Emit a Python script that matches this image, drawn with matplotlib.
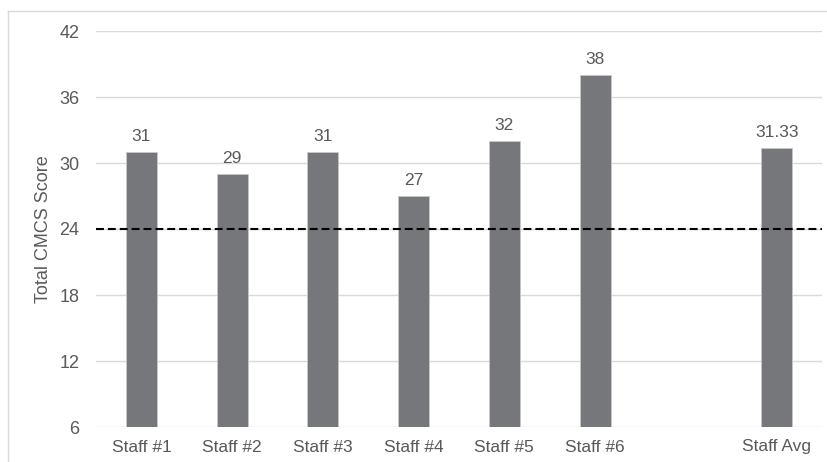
import matplotlib.pyplot as plt
from matplotlib.lines import Line2D

# Data
staff = ["Staff #1", "Staff #2", "Staff #3", "Staff #4", "Staff #5", "Staff #6", "Staff Avg"]
scores = [31, 29, 31, 27, 32, 38, 31.33]
score_labels = ["31", "29", "31", "27", "32", "38", "31.33"]
positions = [0, 1, 2, 3, 4, 5, 7]  # empty slot before the average
cutoff = 24
y_ticks = [6, 12, 18, 24, 30, 36, 42]

plt.rcParams["font.family"] = ["Liberation Sans", "DejaVu Sans"]
text_color = "#595959"
bar_color = "#76777b"
base = 6

fig = plt.figure(figsize=(8.27, 4.62), dpi=100)
ax = fig.add_axes([96 / 827, 1 - 427 / 462, (822 - 96) / 827, (427 - 31) / 462])

heights = [s - base for s in scores]
ax.bar(positions, heights, bottom=base, width=0.34, color=bar_color,
       edgecolor="#c8c8c8", linewidth=0.6, zorder=3)

for x, s, lab in zip(positions, scores, score_labels):
    ax.text(x, s + 0.75, lab, ha="center", va="bottom", fontsize=12.5, color=text_color)

ax.axhline(cutoff, color="black", linestyle=(0, (3.8, 1.9)), linewidth=1.5, zorder=4)

ax.set_xlim(-0.5, 7.5)
ax.set_ylim(6, 42)
ax.set_yticks(y_ticks)
ax.set_xticks(positions)
ax.set_xticklabels(staff)
ax.tick_params(axis="both", length=0, labelcolor=text_color)
ax.tick_params(axis="x", labelsize=12.5, pad=9)
ax.tick_params(axis="y", labelsize=13, pad=12)
ax.grid(axis="y", color="#d9d9d9", linewidth=1, zorder=0)
for sp in ax.spines.values():
    sp.set_visible(False)
ax.set_ylabel("Total CMCS Score", fontsize=13, color=text_color, labelpad=5)

# light chart border
fig.add_artist(Line2D([8 / 827, 8 / 827], [0, 1 - 11 / 462], color="#d9d9d9", linewidth=1))
fig.add_artist(Line2D([8 / 827, 826 / 827], [1 - 11 / 462, 1 - 11 / 462], color="#d9d9d9", linewidth=1))

fig.savefig("out.png", dpi=100)
